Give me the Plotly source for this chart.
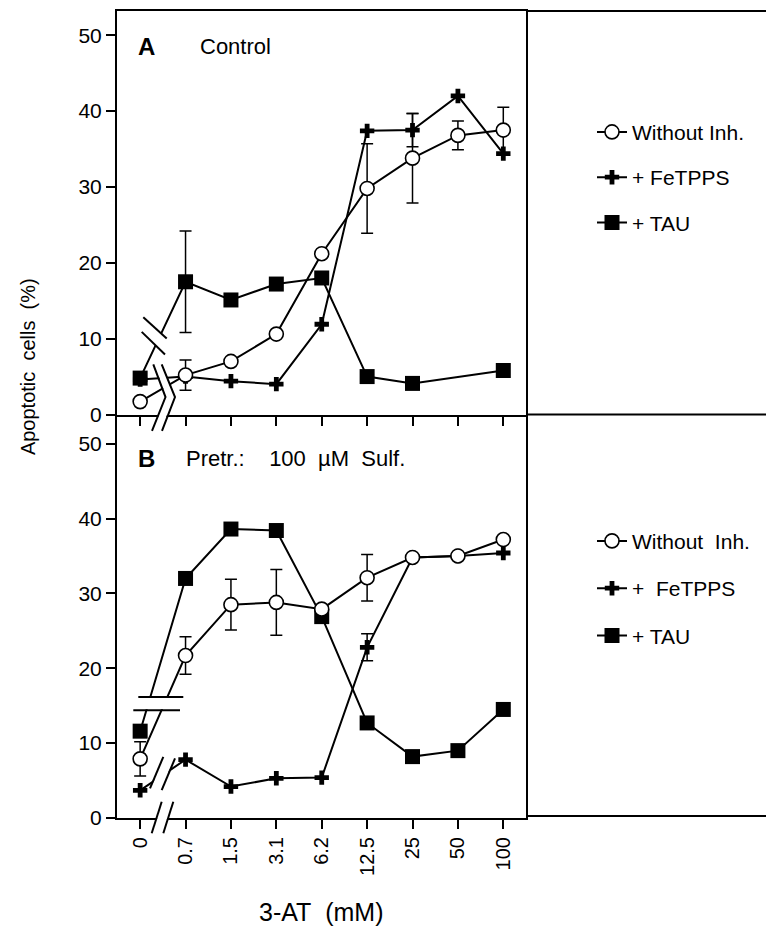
import plotly.graph_objects as go

# ---------------- data ----------------
x_labels = ["0", "0.7", "1.5", "3.1", "6.2", "12.5", "25", "50", "100"]

a_without = [1.7, 5.2, 7.0, 10.6, 21.2, 29.8, 33.8, 36.8, 37.5]
a_without_err = [None, 2.0, None, None, None, 5.9, 5.9, 1.9, 3.0]
a_fetpps = [4.6, 5.0, 4.4, 4.0, 11.9, 37.4, 37.5, 42.0, 34.4]
a_fetpps_err = [None, None, None, None, None, None, 2.2, None, None]
a_tau = [4.8, 17.5, 15.1, 17.2, 18.0, 5.0, 4.1, None, 5.8]
a_tau_err = [None, 6.7, None, None, None, None, None, None, None]

b_without = [7.9, 21.7, 28.5, 28.8, 27.9, 32.1, 34.8, 35.0, 37.2]
b_without_err = [2.3, 2.5, 3.4, 4.4, None, 3.1, None, None, None]
b_fetpps = [3.7, 7.8, 4.2, 5.3, 5.4, 22.8, 34.8, 35.0, 35.4]
b_fetpps_err = [None, None, None, None, None, 1.8, None, None, None]
b_tau = [11.6, 32.0, 38.6, 38.4, 26.9, 12.7, 8.2, 9.0, 14.5]
b_tau_err = [None] * 9

y_ticks = [0, 10, 20, 30, 40, 50]
legend_a = ["Without Inh.", "+ FeTPPS", "+ TAU"]
legend_b = ["Without  Inh.", "+  FeTPPS", "+ TAU"]

FONT = "Liberation Sans, Arial, Helvetica, sans-serif"
W, H = 766, 927
ML, MR, MT, MB = 117, 240, 9, 109
PW = W - ML - MR
PH = H - MT - MB


def px2paper(px, py):
    return (px - ML) / PW, (H - MB - py) / PH


xs = list(range(len(x_labels)))

fig = go.Figure()

styles = {
    "without": dict(symbol="circle", size=14, color="white", line=dict(color="black", width=1.6)),
    "fetpps": dict(symbol="cross", size=12, color="black", line=dict(color="black", width=0)),
    "tau": dict(symbol="square", size=15, color="black", line=dict(color="black", width=0)),
}


def add_series(y, err, key, name, rank, xa, ya, leg):
    fig.add_trace(go.Scatter(
        x=xs, y=y, mode="lines+markers", name=name,
        xaxis=xa, yaxis=ya, legend=leg, legendgroup=leg + key, legendrank=rank,
        connectgaps=True,
        line=dict(color="black", width=2),
        marker=styles[key],
        error_y=dict(type="data", array=err, visible=True, color="black", thickness=1.5, width=6),
        cliponaxis=False,
    ))


# panel A (top)
add_series(a_fetpps, a_fetpps_err, "fetpps", legend_a[1], 2, "x2", "y", "legend")
add_series(a_tau, a_tau_err, "tau", legend_a[2], 3, "x2", "y", "legend")
add_series(a_without, a_without_err, "without", legend_a[0], 1, "x2", "y", "legend")
# panel B (bottom)
add_series(b_fetpps, b_fetpps_err, "fetpps", legend_b[1], 2, "x", "y2", "legend2")
add_series(b_tau, b_tau_err, "tau", legend_b[2], 3, "x", "y2", "legend2")
add_series(b_without, b_without_err, "without", legend_b[0], 1, "x", "y2", "legend2")

axis_common = dict(showline=True, linecolor="black", linewidth=2, showgrid=False, zeroline=False,
                   ticks="outside", tickcolor="black", tickwidth=2, ticklen=9)

fig.update_layout(
    width=W, height=H,
    margin=dict(l=ML, r=MR, t=MT, b=MB),
    paper_bgcolor="white", plot_bgcolor="white",
    font=dict(family=FONT, color="black"),
    xaxis=dict(**axis_common, domain=[0, 1], anchor="y2", range=[-0.51, 8.5],
               tickmode="array", tickvals=xs, ticktext=x_labels, tickangle=-90,
               tickfont=dict(family=FONT, size=20, color="black")),
    xaxis2=dict(**axis_common, domain=[0, 1], anchor="y", matches="x", range=[-0.51, 8.5],
                tickmode="array", tickvals=xs, showticklabels=False, mirror=True),
    yaxis=dict(**axis_common, domain=[0.5, 1], anchor="x2", range=[0, 53.2],
               tickmode="array", tickvals=y_ticks, mirror=True,
               tickfont=dict(family=FONT, size=21, color="black")),
    yaxis2=dict(**axis_common, domain=[0, 0.5], anchor="x", range=[0, 53.9],
                tickmode="array", tickvals=y_ticks, mirror=True,
                tickfont=dict(family=FONT, size=21, color="black")),
    legend=dict(x=px2paper(592, 0)[0], y=px2paper(0, 110)[1], xanchor="left", yanchor="top",
                font=dict(family=FONT, size=21, color="black"), bgcolor="rgba(0,0,0,0)",
                tracegroupgap=15),
    legend2=dict(x=px2paper(592, 0)[0], y=px2paper(0, 520)[1], xanchor="left", yanchor="top",
                 font=dict(family=FONT, size=21, color="black"), bgcolor="rgba(0,0,0,0)",
                 tracegroupgap=17),
    showlegend=True,
)

shapes = []
xr = (W - ML) / PW
# outer frame to the right of the panels
for py in (MT, 413.5, 816):
    yy = px2paper(0, py)[1]
    shapes.append(dict(type="line", xref="paper", yref="paper", x0=1, x1=xr, y0=yy, y1=yy,
                       line=dict(color="black", width=2), layer="above"))


def poly(points):
    s = ""
    for i, (a, b) in enumerate(points):
        px_, py_ = px2paper(a, b)
        s += ("M" if i == 0 else "L") + f"{px_:.5f},{py_:.5f} "
    return s


def white(points):
    shapes.append(dict(type="path", xref="paper", yref="paper", path=poly(points) + "Z",
                       fillcolor="white", line=dict(width=0), layer="above"))


def blk(points, w=2):
    shapes.append(dict(type="path", xref="paper", yref="paper", path=poly(points),
                       line=dict(color="black", width=w), layer="above"))


# --- break marks panel A ---
white([(143.3, 316), (166.7, 337.3), (165, 353.3), (141.7, 330.7)])
blk([(143.3, 316), (166.7, 337.3)])
blk([(141.7, 330.7), (165, 353.3)])
white([(154.5, 363.3), (166, 395), (153, 430), (161, 430), (174, 395), (161.5, 363.3)])
blk([(153.3, 363.3), (165.5, 396), (152, 430)])
blk([(161.7, 363.3), (175, 396), (162, 430)])

# --- break marks panel B ---
white([(136, 697.5), (182, 697.5), (182, 709), (136, 709)])
blk([(138.3, 696.7), (183.3, 696.7)])
blk([(133.3, 710), (180, 710)])
white([(151, 788), (164, 757), (174, 758.5), (161, 789.5)])
blk([(150, 788.3), (163.3, 756.7)])
blk([(161.7, 790), (175, 758.3)])
white([(152.5, 833), (162.5, 802), (172.5, 802), (162.5, 833)])
blk([(151.7, 833.3), (161.7, 801.7)])
blk([(163.3, 833.3), (173.3, 801.7)])

fig.update_layout(shapes=shapes)

ann = []


def text(px, py, s, size=22, bold=False, anchor="left", angle=0):
    xx, yy = px2paper(px, py)
    ann.append(dict(x=xx, y=yy, xref="paper", yref="paper", text=f"<b>{s}</b>" if bold else s,
                    showarrow=False, xanchor=anchor, yanchor="middle", textangle=angle,
                    font=dict(family=FONT, size=size, color="black")))


text(136, 45, "A", size=24, bold=True)
text(198, 45, "Control")
text(136, 458, "B", size=24, bold=True)
text(184, 458, "Pretr.:\u00a0\u00a0\u00a0 100\u00a0\u00a0µM\u00a0\u00a0Sulf.")
text(28, 366, "Apoptotic\u00a0 cells\u00a0 (%)", size=20, anchor="center", angle=-90)
text(321, 912, "3-AT\u00a0 (mM)", size=25, anchor="center")
fig.update_layout(annotations=ann)

fig.write_html("out.html")
